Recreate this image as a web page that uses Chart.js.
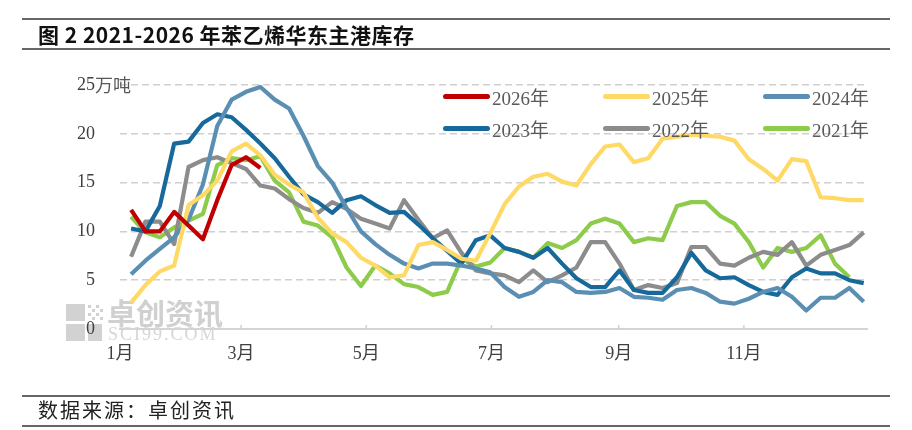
<!DOCTYPE html>
<html>
<head>
<meta charset="utf-8">
<script src="https://cdn.jsdelivr.net/npm/chart.js@4"></script>
<style>
  body { margin: 0; background: #fff; }
  #page { position: relative; width: 912px; height: 430px; overflow: hidden; background: #fff; }
  #chart { position: absolute; left: 0; top: 0; }
  .rule { position: absolute; left: 22px; width: 868px; height: 2px; background: #666; }
  #title { position: absolute; left: 38px; top: 19px; font: bold 21px "Noto Sans CJK SC", sans-serif; letter-spacing: 0.5px; color: #111; }
  #source { position: absolute; left: 38px; top: 395px; font: 20px "Noto Sans CJK SC", sans-serif; letter-spacing: 2px; color: #222; }
  .lg { position: absolute; height: 24px; display: flex; align-items: center; font: 19px "Liberation Serif", "Noto Sans CJK SC", serif; color: #595959; }
  .lg span.ln { display: inline-block; width: 47px; height: 5px; border-radius: 3px; margin-right: 2px; }
</style>
</head>
<body>
<div id="page">
  <canvas id="chart" width="912" height="430"></canvas>
  <div class="rule" style="top:18px"></div>
  <div id="title">图 2 2021-2026 年苯乙烯华东主港库存</div>
  <div class="rule" style="top:48px"></div>
  <div class="rule" style="top:395px"></div>
  <div id="source">数据来源：卓创资讯</div>
  <div class="rule" style="top:425px"></div>
  <div id="legend"></div>
</div>
<script>
// weekly points, plotted by day of year
const weekDays = Array.from({ length: 52 }, (_, i) => 5.4 + 7 * i);

// x axis month labels (day of year where each month starts)
const monthDays = [0, 59, 120, 181, 243, 304];
const monthLabels = ['1月', '3月', '5月', '7月', '9月', '11月'];

// 万吨
const s2026 = [12.2, 10.0, 10.0, 12.0, 10.6, 9.2, 13.2, 16.8, 17.6, 16.5];
const s2025 = [2.7, 4.5, 5.9, 6.5, 12.7, 13.7, 15.2, 18.2, 19.0, 17.8, 15.8, 14.8, 14.0, 11.4, 9.8, 8.9, 7.3, 6.5, 5.3, 5.5,
  8.6, 8.9, 8.1, 7.2, 7.0, 9.8, 12.8, 14.6, 15.6, 15.9, 15.1, 14.7, 16.9, 18.7, 18.9, 17.1, 17.5, 19.5, 19.7, 19.9,
  19.8, 19.7, 19.3, 17.4, 16.4, 15.2, 17.4, 17.2, 13.5, 13.4, 13.2, 13.2];
const s2024 = [5.6, 7.0, 8.2, 9.4, 11.2, 14.8, 20.8, 23.5, 24.3, 24.8, 23.5, 22.6, 19.8, 16.7, 15.0, 12.4, 10.0, 8.7, 7.6, 6.7,
  6.2, 6.7, 6.7, 6.5, 6.2, 5.8, 4.3, 3.3, 3.8, 5.0, 4.8, 3.8, 3.7, 3.8, 4.2, 3.3, 3.2, 3.0, 4.0, 4.2,
  3.7, 2.8, 2.6, 3.1, 3.8, 4.2, 3.3, 1.9, 3.2, 3.2, 4.2, 2.8];
const s2023 = [10.3, 10.0, 12.6, 19.0, 19.2, 21.1, 22.0, 21.7, 20.4, 19.0, 17.5, 15.6, 13.8, 13.0, 11.9, 13.2, 13.6, 12.7, 11.9, 12.0,
  10.7, 9.3, 8.0, 6.7, 9.1, 9.6, 8.3, 7.9, 7.3, 8.3, 6.7, 5.2, 4.3, 4.3, 6.0, 4.0, 3.7, 3.7, 5.3, 7.8,
  6.0, 5.2, 5.3, 4.5, 3.8, 3.5, 5.3, 6.2, 5.7, 5.7, 5.0, 4.7];
const s2022 = [7.4, 11.0, 11.0, 8.7, 16.6, 17.3, 17.6, 17.0, 16.4, 14.7, 14.4, 13.3, 12.4, 11.9, 13.0, 12.3, 11.3, 10.8, 10.3, 13.2,
  11.2, 9.3, 10.1, 7.8, 6.0, 5.7, 5.5, 4.8, 6.0, 4.8, 5.5, 6.3, 8.9, 8.9, 6.7, 4.0, 4.5, 4.2, 4.7, 8.4,
  8.4, 6.7, 6.5, 7.3, 7.9, 7.6, 8.9, 6.5, 7.6, 8.1, 8.6, 9.9];
const s2021 = [11.5, 9.9, 9.4, 10.4, 11.1, 11.8, 16.8, 17.5, 17.3, 17.7, 15.2, 14.0, 11.0, 10.6, 9.4, 6.3, 4.4, 6.5, 5.7, 4.6,
  4.3, 3.5, 3.8, 7.2, 6.4, 6.8, 8.3, 7.9, 7.3, 8.8, 8.3, 9.1, 10.8, 11.3, 10.8, 8.9, 9.3, 9.1, 12.6, 13.0,
  13.0, 11.6, 10.8, 8.9, 6.3, 8.3, 7.9, 8.3, 9.6, 6.7, 5.3, null];

const series = [
  { name: '2026年', data: s2026, color: '#C00000' },
  { name: '2025年', data: s2025, color: '#FFD966' },
  { name: '2024年', data: s2024, color: '#5A8FB3' },
  { name: '2023年', data: s2023, color: '#17699B' },
  { name: '2022年', data: s2022, color: '#8C8C8C' },
  { name: '2021年', data: s2021, color: '#8DCB4B' }
];

// legend, 3 columns x 2 rows inside the plot
const legendSpots = [[443, 84], [603, 84], [763, 84], [443, 116], [603, 116], [763, 116]];
const legendBox = document.getElementById('legend');
series.forEach((s, i) => {
  const d = document.createElement('div');
  d.className = 'lg';
  d.style.left = legendSpots[i][0] + 'px';
  d.style.top = legendSpots[i][1] + 'px';
  d.innerHTML = '<span class="ln" style="background:' + s.color + '"></span>' + s.name;
  legendBox.appendChild(d);
});

const tickFont = { family: "'Liberation Serif', 'Noto Sans CJK SC', serif", size: 18 };

const extras = {
  id: 'extras',
  beforeDraw(chart) {
    // watermark sits under axes and lines
    const ctx = chart.ctx;
    ctx.save();
    ctx.fillStyle = '#d2d2d2';
    ctx.fillRect(66, 304, 19, 17);
    ctx.fillRect(66, 324, 19, 17);
    ctx.fillRect(88, 324, 14, 17);
    for (let r = 0; r < 4; r++) {
      for (let c = 0; c < 4; c++) {
        if ((r + c) % 2 === 0) ctx.fillRect(88 + c * 4, 305 + r * 4, 3, 3);
      }
    }
    ctx.fillStyle = '#d0d0d0';
    ctx.font = "bold 29px 'Noto Sans CJK SC'";
    ctx.textBaseline = 'middle';
    ctx.fillText('卓创资讯', 107, 314);
    ctx.font = "18px 'Liberation Serif'";
    ctx.letterSpacing = '2px';
    ctx.fillStyle = '#d6d6d6';
    ctx.fillText('SCI99.COM', 108, 335);
    ctx.restore();
  },
  beforeDatasetsDraw(chart) {
    const ctx = chart.ctx;
    const x = chart.scales.x, y = chart.scales.y;
    ctx.save();
    // small month marks on the axis
    ctx.strokeStyle = '#d0d0d0';
    ctx.lineWidth = 1.5;
    monthDays.slice(1).forEach(v => {
      const px = x.getPixelForValue(v);
      ctx.beginPath();
      ctx.moveTo(px, y.bottom - 4);
      ctx.lineTo(px, y.bottom);
      ctx.stroke();
    });
    ctx.restore();
  },
  afterDraw(chart) {
    const ctx = chart.ctx;
    const y = chart.scales.y;
    ctx.save();
    ctx.fillStyle = '#595959';
    ctx.font = "18px 'Noto Sans CJK SC'";
    ctx.textBaseline = 'middle';
    ctx.fillText('万吨', 95, y.getPixelForValue(25));
    ctx.restore();
  }
};

new Chart(document.getElementById('chart'), {
  type: 'line',
  data: {
    datasets: series.map(s => ({
      label: s.name,
      data: s.data.map((v, i) => ({ x: weekDays[i], y: v })),
      borderColor: s.color,
      backgroundColor: s.color,
      borderWidth: 4.2,
      pointRadius: 0,
      tension: 0,
      borderJoinStyle: 'round',
      fill: false,
      spanGaps: false
    }))
  },
  options: {
    responsive: false,
    animation: false,
    devicePixelRatio: 1,
    layout: { padding: { left: 60, right: 45, top: 85, bottom: 61 } },
    plugins: { legend: { display: false }, tooltip: { enabled: false } },
    scales: {
      x: {
        type: 'linear',
        min: 0,
        max: 364,
        afterBuildTicks: axis => { axis.ticks = monthDays.map(v => ({ value: v })); },
        afterFit: s => { s.height = 40; },
        grid: { display: false, drawTicks: false },
        border: { display: true, color: '#d4d4d4', width: 2 },
        ticks: {
          autoSkip: false,
          maxRotation: 0,
          padding: 14,
          color: '#404040',
          font: tickFont,
          callback: v => monthLabels[monthDays.indexOf(v)]
        }
      },
      y: {
        min: 0,
        max: 25,
        afterFit: s => { s.width = 60; },
        grid: {
          drawTicks: false,
          lineWidth: 1.5,
          color: c => c.tick.value === 0 ? 'rgba(0,0,0,0)' : '#d0d0d0'
        },
        border: { display: false, dash: [7, 4] },
        ticks: {
          stepSize: 5,
          padding: 25,
          color: '#404040',
          font: tickFont
        }
      }
    }
  },
  plugins: [extras]
});
</script>
</body>
</html>
